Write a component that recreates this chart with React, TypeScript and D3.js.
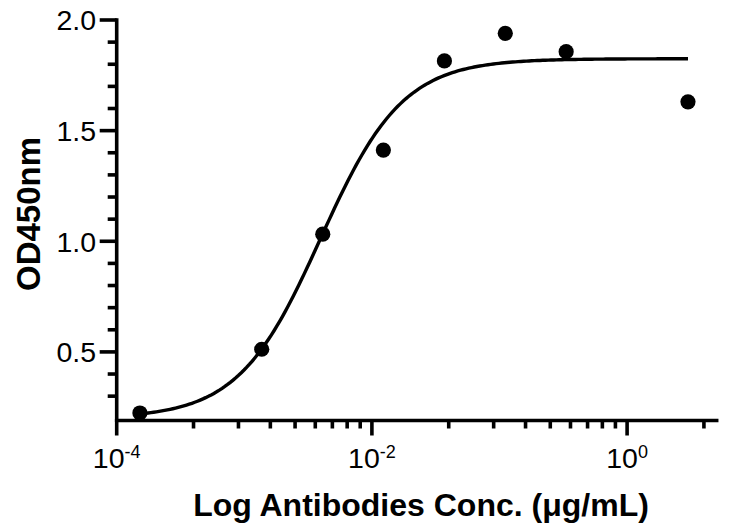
import React from "react";
import * as d3 from "d3";

// Concentrations (µg/mL) and OD450 readings
const concentrations = [0.000152, 0.00137, 0.00412, 0.0123, 0.037, 0.111, 0.333, 3];
const odValues = [0.224, 0.512, 1.032, 1.412, 1.815, 1.94, 1.857, 1.63];

// Fitted 4-parameter logistic curve
const fitBottom = 0.2;
const fitTop = 1.825;
const fitEC50 = 0.00396;
const fitHill = 1.35;

const yMajorTicks = [0.5, 1.0, 1.5, 2.0];
const yMinorTicks = [0.3, 0.4, 0.6, 0.7, 0.8, 0.9, 1.1, 1.2, 1.3, 1.4, 1.6, 1.7, 1.8, 1.9];
const xMajorExps = [-4, -2, 0];
const minorMultipliers = [4, 9, 16, 25, 36, 49, 64, 81];

const W = 743;
const H = 531;
const FONT = "Arial, 'Liberation Sans', Helvetica, sans-serif";
const AX = 3.6;

export default function App() {
  const x = d3.scaleLog().domain([1e-4, 5.2]).range([116.7, 116.7 + 127.6 * Math.log10(5.2e4)]);
  const y = d3.scaleLinear().domain([0.19, 2.0]).range([420.5, 20]);

  const x0 = x.range()[0];
  const y0 = y.range()[0];

  const logistic = (c: number) => fitBottom + (fitTop - fitBottom) / (1 + Math.pow(fitEC50 / c, fitHill));
  const lo = Math.log10(concentrations[0]);
  const hi = Math.log10(concentrations[concentrations.length - 1]);
  const curvePts: [number, number][] = d3.range(0, 201).map((i) => {
    const c = Math.pow(10, lo + ((hi - lo) * i) / 200);
    return [x(c), y(logistic(c))];
  });
  const line = d3.line();

  const minorX: number[] = [];
  xMajorExps.forEach((e) => {
    minorMultipliers.forEach((m) => {
      const v = Math.pow(10, e) * m;
      if (v <= x.domain()[1]) minorX.push(v);
    });
  });

  return (
    <svg width={W} height={H} style={{ position: "fixed", left: 0, top: 0, background: "#fff" }}>
      {/* Y axis */}
      <line x1={x0} x2={x0} y1={y(2.0) - AX / 2} y2={y0} stroke="#000" strokeWidth={AX} />
      {yMajorTicks.map((t) => (
        <g key={"ym" + t}>
          <line x1={x0 - 17} x2={x0} y1={y(t)} y2={y(t)} stroke="#000" strokeWidth={AX} />
          <text x={96} y={y(t)} dy="0.36em" textAnchor="end" fontFamily={FONT} fontSize={28.5} fill="#000">
            {t.toFixed(1)}
          </text>
        </g>
      ))}
      {yMinorTicks.map((t) => (
        <line key={"yn" + t} x1={x0 - 9} x2={x0} y1={y(t)} y2={y(t)} stroke="#000" strokeWidth={AX} />
      ))}

      {/* X axis */}
      <line x1={x0 - AX / 2} x2={x.range()[1]} y1={y0} y2={y0} stroke="#000" strokeWidth={AX} />
      {xMajorExps.map((e) => {
        const px = x(Math.pow(10, e));
        return (
          <g key={"xm" + e}>
            <line x1={px} x2={px} y1={y0} y2={y0 + 15} stroke="#000" strokeWidth={AX} />
            <text x={px} y={468} textAnchor="middle" fontFamily={FONT} fontSize={28.5} fill="#000">
              10
              <tspan fontSize={18} dy={-10}>
                {e === 0 ? "0" : "-" + Math.abs(e)}
              </tspan>
            </text>
          </g>
        );
      })}
      {minorX.map((v) => (
        <line key={"xn" + v} x1={x(v)} x2={x(v)} y1={y0} y2={y0 + 8} stroke="#000" strokeWidth={AX} />
      ))}

      {/* Fitted curve */}
      <path d={line(curvePts) || ""} fill="none" stroke="#000" strokeWidth={3.4} />

      {/* Data points */}
      {concentrations.map((c, i) => (
        <circle key={"p" + i} cx={x(c)} cy={y(odValues[i])} r={7.6} fill="#000" />
      ))}

      {/* Titles */}
      <text x={421} y={516} textAnchor="middle" fontFamily={FONT} fontWeight="bold" fontSize={32} fill="#000">
        Log Antibodies Conc. (μg/mL)
      </text>
      <text
        transform={`translate(40, 214) rotate(-90)`}
        textAnchor="middle"
        fontFamily={FONT}
        fontWeight="bold"
        fontSize={33}
        fill="#000"
      >
        OD450nm
      </text>
    </svg>
  );
}
